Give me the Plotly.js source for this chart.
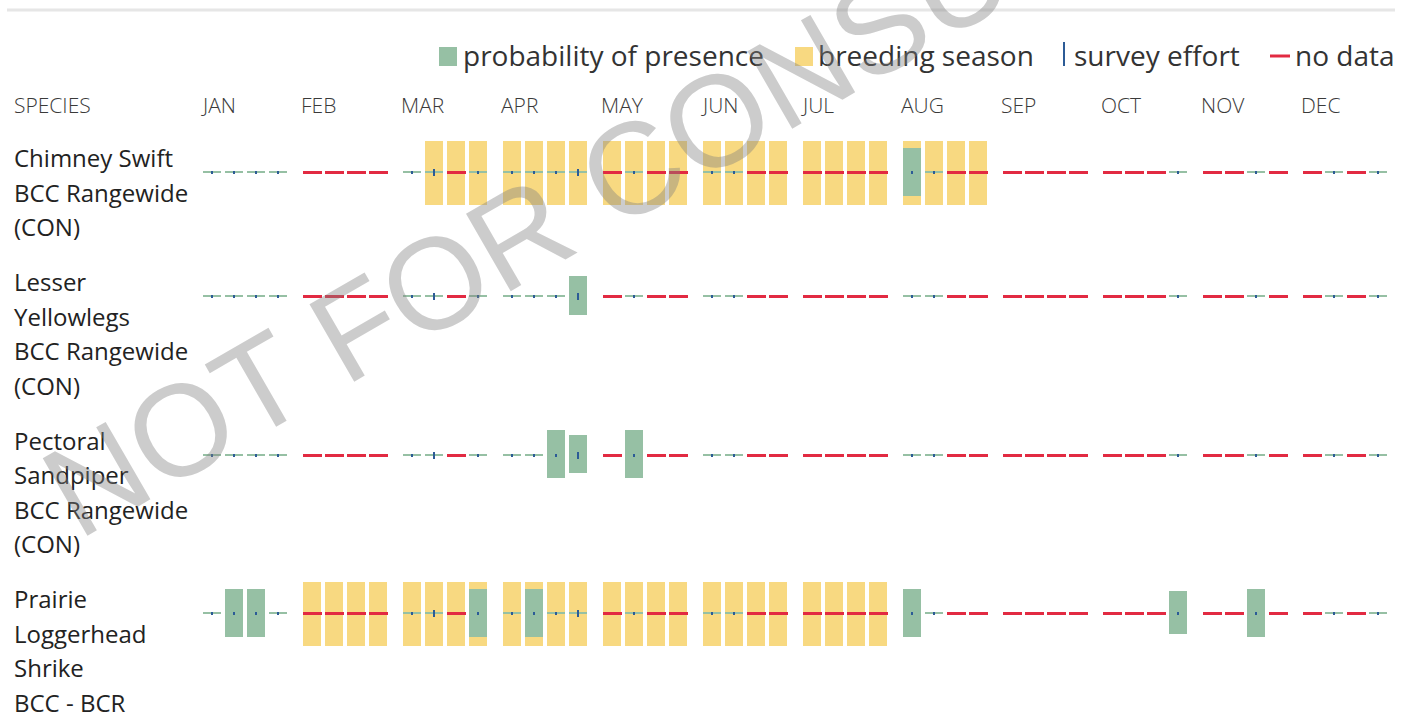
<!DOCTYPE html>
<html>
<head>
<meta charset="utf-8">
<script src="https://cdn.plot.ly/plotly-3.0.1.min.js"></script>
<style>
  html, body { margin: 0; padding: 0; background: #ffffff; }
  #chart { width: 1409px; height: 714px; }
</style>
</head>
<body>
<div id="chart"></div>
<script>
// ---------- DATA ----------
const months = ['JAN', 'FEB', 'MAR', 'APR', 'MAY', 'JUN', 'JUL', 'AUG', 'SEP', 'OCT', 'NOV', 'DEC'];
const headerLabel = 'SPECIES';
const legendLabels = ['probability of presence', 'breeding season', 'survey effort', 'no data'];
const watermarkText = 'NOT FOR CONSULTATION';

const speciesLabels = [
  ['Chimney Swift', 'BCC Rangewide', '(CON)'],
  ['Lesser', 'Yellowlegs', 'BCC Rangewide', '(CON)'],
  ['Pectoral', 'Sandpiper', 'BCC Rangewide', '(CON)'],
  ['Prairie', 'Loggerhead', 'Shrike', 'BCC - BCR']
];

// survey effort per week (4 weeks per month): 0 = no data, 1 = low, 2 = high
const surveyEffort = [
  1, 1, 1, 1,   0, 0, 0, 0,   1, 2, 0, 1,   1, 1, 1, 2,
  0, 1, 0, 0,   1, 1, 0, 0,   0, 0, 0, 0,   1, 1, 0, 0,
  0, 0, 0, 0,   0, 0, 0, 1,   0, 0, 1, 0,   0, 1, 0, 1
];

// breeding season flags per week
const breedingChimneySwift = [
  0, 0, 0, 0,   0, 0, 0, 0,   0, 1, 1, 1,   1, 1, 1, 1,
  1, 1, 1, 1,   1, 1, 1, 1,   1, 1, 1, 1,   1, 1, 1, 1,
  0, 0, 0, 0,   0, 0, 0, 0,   0, 0, 0, 0,   0, 0, 0, 0
];
const breedingLesserYellowlegs = new Array(48).fill(0);
const breedingPectoralSandpiper = new Array(48).fill(0);
const breedingLoggerheadShrike = [
  0, 0, 0, 0,   1, 1, 1, 1,   1, 1, 1, 1,   1, 1, 1, 1,
  1, 1, 1, 1,   1, 1, 1, 1,   1, 1, 1, 1,   0, 0, 0, 0,
  0, 0, 0, 0,   0, 0, 0, 0,   0, 0, 0, 0,   0, 0, 0, 0
];

// probability of presence per week (fraction of full bar)
const probChimneySwift = [
  0, 0, 0, 0,   0, 0, 0, 0,   0, 0, 0, 0,   0, 0, 0, 0,
  0, 0, 0, 0,   0, 0, 0, 0,   0, 0, 0, 0,   0.75, 0, 0, 0,
  0, 0, 0, 0,   0, 0, 0, 0,   0, 0, 0, 0,   0, 0, 0, 0
];
const probLesserYellowlegs = [
  0, 0, 0, 0,   0, 0, 0, 0,   0, 0, 0, 0,   0, 0, 0, 0.6,
  0, 0, 0, 0,   0, 0, 0, 0,   0, 0, 0, 0,   0, 0, 0, 0,
  0, 0, 0, 0,   0, 0, 0, 0,   0, 0, 0, 0,   0, 0, 0, 0
];
const probPectoralSandpiper = [
  0, 0, 0, 0,   0, 0, 0, 0,   0, 0, 0, 0,   0, 0, 0.75, 0.6,
  0, 0.75, 0, 0,   0, 0, 0, 0,   0, 0, 0, 0,   0, 0, 0, 0,
  0, 0, 0, 0,   0, 0, 0, 0,   0, 0, 0, 0,   0, 0, 0, 0
];
const probLoggerheadShrike = [
  0, 0.75, 0.75, 0,   0, 0, 0, 0,   0, 0, 0, 0.75,   0, 0.75, 0, 0,
  0, 0, 0, 0,   0, 0, 0, 0,   0, 0, 0, 0,   0.75, 0, 0, 0,
  0, 0, 0, 0,   0, 0, 0, 0.66,   0, 0, 0.75, 0,   0, 0, 0, 0
];

const breeding = [breedingChimneySwift, breedingLesserYellowlegs, breedingPectoralSandpiper, breedingLoggerheadShrike];
const probability = [probChimneySwift, probLesserYellowlegs, probPectoralSandpiper, probLoggerheadShrike];

// ---------- STYLE / LAYOUT CONSTANTS ----------
const COLORS = { green: '#96c0a4', yellow: '#f8d981', red: '#e22a42', blue: '#2c5b96', text: '#222222', month: '#3a3a3a' };
const W = 1409, H = 714;
const X0 = 203, MONTH_PX = 100, WEEK_PX = 22, BAR_PX = 18;
const LINE_H = 34.5, ROW_GAP = 20.5, FIRST_ROW = 172.5, FULL_H = 64;
const px2x = p => (p - X0) / MONTH_PX;

// row centres derived from label line counts
const rowCenters = [];
let cy = FIRST_ROW;
speciesLabels.forEach(l => { rowCenters.push(cy); cy += l.length * LINE_H + ROW_GAP; });

const weekCenter = k => Math.floor(k / 4) + (k % 4) * WEEK_PX / MONTH_PX + (BAR_PX / 2) / MONTH_PX;

// ---------- TRACES ----------
const breedT = { x: [], y: [], base: [] };
const probT = { x: [], y: [], base: [] };
const surveyT = { x: [], y: [], base: [] };
const noDataT = { x: [], y: [], base: [] };
const effortT = { x: [], y: [], base: [] };

speciesLabels.forEach((_, s) => {
  const c = rowCenters[s];
  for (let k = 0; k < 48; k++) {
    const x = weekCenter(k);
    if (breeding[s][k]) { breedT.x.push(x); breedT.y.push(FULL_H); breedT.base.push(c - FULL_H / 2 + 0.5); }
    const p = probability[s][k];
    const e = surveyEffort[k];
    if (p > 0) {
      const h = p * FULL_H;
      probT.x.push(x); probT.y.push(h); probT.base.push(c - 1 - h / 2);
    } else if (e > 0) {
      surveyT.x.push(x); surveyT.y.push(2); surveyT.base.push(c - 1.5);
    }
    if (e === 0) {
      noDataT.x.push(x + 0.005); noDataT.y.push(3); noDataT.base.push(c - 1.5);
    } else {
      const h = e === 2 ? 7 : 3;
      effortT.x.push(x); effortT.y.push(h); effortT.base.push(c - h / 2);
    }
  }
});

function barTrace(t, color, widthPx) {
  return {
    type: 'bar', x: t.x, y: t.y, base: t.base, width: widthPx / MONTH_PX,
    marker: { color: color, line: { width: 0 } }, hoverinfo: 'skip', showlegend: false
  };
}

const data = [
  barTrace(breedT, COLORS.yellow, BAR_PX),
  barTrace(probT, COLORS.green, BAR_PX),
  barTrace(surveyT, COLORS.green, BAR_PX),
  barTrace(noDataT, COLORS.red, 19),
  barTrace(effortT, COLORS.blue, 2)
];

// ---------- ANNOTATIONS ----------
const annotations = [];
const font = (size, color, weight) => ({ family: 'Open Sans, sans-serif', size: size, color: color, weight: weight || 400 });

annotations.push({ x: px2x(12), y: 105, xref: 'x', yref: 'y', text: headerLabel, showarrow: false,
  xanchor: 'left', yanchor: 'middle', font: font(21, COLORS.month, 300) });
months.forEach((m, i) => {
  annotations.push({ x: i - 0.045, y: 105, xref: 'x', yref: 'y', text: m, showarrow: false,
    xanchor: 'left', yanchor: 'middle', font: font(21, COLORS.month, 300) });
});

speciesLabels.forEach((lines, s) => {
  lines.forEach((ln, j) => {
    annotations.push({ x: px2x(12), y: rowCenters[s] - 15 + j * LINE_H, xref: 'x', yref: 'y', text: ln,
      showarrow: false, xanchor: 'left', yanchor: 'middle', font: font(24, COLORS.text) });
  });
});

// legend (manual)
const legendTextX = [461, 816, 1072, 1293];
legendLabels.forEach((t, i) => {
  annotations.push({ x: px2x(legendTextX[i]), y: 55, xref: 'x', yref: 'y', text: t, showarrow: false,
    xanchor: 'left', yanchor: 'middle', font: font(28, '#333333') });
});

// watermark
annotations.push({ x: 752 / W, y: 1 - 100 / H, xref: 'paper', yref: 'paper', text: watermarkText, showarrow: false,
  xanchor: 'center', yanchor: 'middle', textangle: -30,
  font: { family: 'Liberation Sans, Arial, sans-serif', size: 130, color: 'rgba(128,128,128,0.40)' } });

const shapes = [
  { type: 'line', xref: 'x', yref: 'y', x0: px2x(7), x1: px2x(1395), y0: 10, y1: 10, line: { color: '#e6e6e6', width: 3 } },
  { type: 'rect', xref: 'x', yref: 'y', x0: px2x(439), x1: px2x(457), y0: 47, y1: 66, fillcolor: COLORS.green, line: { width: 0 } },
  { type: 'rect', xref: 'x', yref: 'y', x0: px2x(795), x1: px2x(813), y0: 47, y1: 66, fillcolor: COLORS.yellow, line: { width: 0 } },
  { type: 'line', xref: 'x', yref: 'y', x0: px2x(1064), x1: px2x(1064), y0: 42, y1: 66, line: { color: COLORS.blue, width: 2 } },
  { type: 'line', xref: 'x', yref: 'y', x0: px2x(1270), x1: px2x(1290), y0: 56, y1: 56, line: { color: COLORS.red, width: 3 } }
];

const layout = {
  width: W, height: H,
  margin: { l: 0, r: 0, t: 0, b: 0, pad: 0 },
  paper_bgcolor: '#ffffff', plot_bgcolor: '#ffffff',
  barmode: 'overlay', bargap: 0,
  xaxis: { range: [px2x(0), px2x(W)], visible: false, fixedrange: true },
  yaxis: { range: [H, 0], visible: false, fixedrange: true },
  annotations: annotations, shapes: shapes,
  showlegend: false, hovermode: false
};

Plotly.newPlot('chart', data, layout, { displayModeBar: false, staticPlot: true });
</script>
</body>
</html>
